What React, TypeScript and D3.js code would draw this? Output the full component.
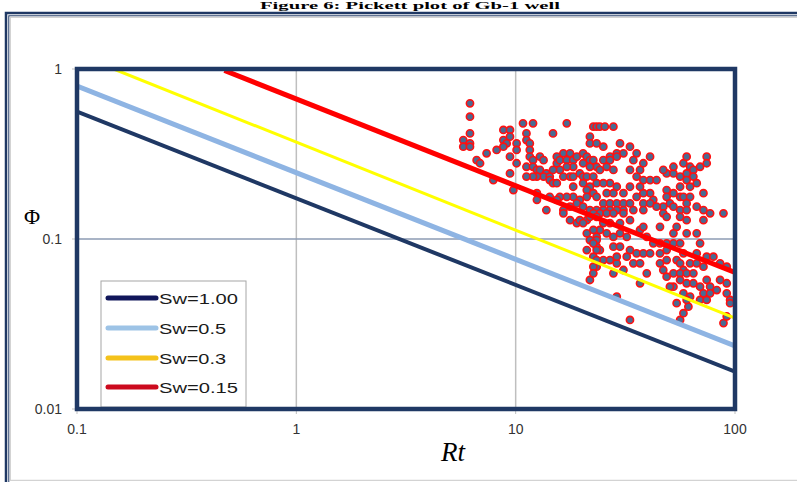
import React from "react";
import * as d3 from "d3";

// ---- data ----
const rtTicks = [0.1, 1, 10, 100];
const rtTickLabels = ["0.1", "1", "10", "100"];
const phiTicks = [0.01, 0.1, 1];
const phiTickLabels = ["0.01", "0.1", "1"];
const gridRt = [1, 10];
const gridPhi = [0.1];

const swLabels = ["Sw=1.00", "Sw=0.5", "Sw=0.3", "Sw=0.15"];
const swLineRt = [
  [0.1, 100],
  [0.1, 100],
  [0.147, 100],
  [0.47, 100],
];
const swLinePhi = [
  [0.561, 0.0166],
  [0.794, 0.0235],
  [1.0, 0.0343],
  [0.98, 0.0635],
];

const pointsRt = [
  6.19, 6.19, 6.19, 5.77, 6.19, 5.77, 6.19, 6.64, 6.88, 7.37, 7.91, 8.79, 9.42, 8.79, 9.42, 9.1, 8.79, 8.19, 9.42, 10.1,
  10.1, 10.8, 12.0, 11.2, 11.2, 11.6, 11.6, 11.6, 12.0, 12.9, 13.4, 11.2, 12.0, 12.5, 12.9, 13.8, 13.4, 12.5, 12.0, 11.2,
  10.1, 9.42, 9.76, 14.8, 17.1, 16.5, 17.7, 15.4, 15.4, 15.9, 17.1, 18.3, 19.0, 20.3, 21.1, 21.8, 20.3, 22.6, 23.4, 21.8,
  18.3, 17.1, 15.9, 14.8, 14.3, 14.3, 14.8, 15.4, 16.5, 17.7, 18.3, 19.6, 20.3, 21.1, 22.6, 23.4, 21.8, 20.3, 18.3, 21.1,
  22.6, 21.1, 19.6, 18.3, 17.1, 15.9, 15.4, 14.3, 12.5, 12.5, 13.8, 16.5, 17.7, 19.0, 20.3, 21.8, 23.4, 21.8, 21.8, 22.6,
  23.4, 23.4, 24.2, 25.5, 27.9, 25.1, 29.9, 33.2, 35.6, 28.9, 31.0, 26.9, 28.9, 25.1, 26.9, 34.4, 41.0, 38.2, 24.2, 26.0,
  27.9, 33.2, 36.9, 35.6, 38.2, 41.0, 43.9, 48.8, 47.1, 52.4, 52.4, 56.2, 58.2, 60.2, 62.4, 64.6, 69.3, 74.3, 74.3, 60.2,
  64.6, 60.2, 66.9, 62.4, 56.2, 52.4, 48.8, 48.8, 50.5, 56.2, 58.2, 62.4, 60.2, 66.9, 71.8, 52.4, 47.1, 42.4, 41.0, 38.2,
  36.9, 33.2, 31.0, 28.9, 26.9, 25.1, 23.4, 26.0, 27.9, 25.1, 26.9, 28.9, 31.0, 33.2, 35.6, 38.2, 41.0, 43.9, 38.2, 34.4,
  31.0, 28.9, 26.9, 25.1, 56.2, 60.2, 71.8, 24.2, 26.0, 27.9, 31.0, 33.2, 25.1, 26.9, 29.9, 24.2, 26.0, 27.9, 29.9, 32.1,
  36.9, 38.2, 45.5, 47.1, 48.8, 56.2, 60.2, 54.2, 52.4, 60.2, 66.9, 71.8, 77.0, 88.6, 69.3, 39.6, 42.4, 45.5, 48.8, 52.4,
  56.2, 23.4, 24.2, 27.9, 29.9, 33.2, 35.6, 38.2, 41.0, 45.5, 48.8, 58.2, 66.9, 25.1, 26.9, 28.9, 28.9, 32.1, 34.4, 23.4,
  27.9, 36.9, 39.6, 45.5, 48.8, 54.2, 56.2, 58.2, 62.4, 66.9, 71.8, 74.3, 79.7, 85.5, 91.7, 47.1, 48.8, 52.4, 56.2, 60.2,
  64.6, 56.2, 52.4, 60.2, 64.6, 69.3, 74.3, 85.5, 91.7, 77.0, 71.8, 77.0, 82.6, 91.7, 95.0, 95.0, 58.2, 62.4, 69.3, 74.3,
  54.2, 50.5, 36.9, 28.9, 33.2, 56.2, 58.2, 88.6, 91.7, 16.5, 17.7, 19.0, 19.6, 21.1, 21.8, 22.6, 23.4, 20.3, 21.1, 22.6,
  23.4, 23.4, 21.8, 22.6, 21.1, 23.4, 22.6, 23.4, 22.6, 21.8, 61.3, 60.2, 22.6, 31.0,
];
const pointsPhi = [
  0.628, 0.524, 0.418, 0.382, 0.365, 0.349, 0.349, 0.291, 0.279, 0.319, 0.222, 0.438, 0.438, 0.382, 0.4, 0.365, 0.349, 0.334, 0.305, 0.365,
  0.334, 0.479, 0.479, 0.418, 0.382, 0.365, 0.334, 0.305, 0.291, 0.305, 0.291, 0.266, 0.266, 0.255, 0.255, 0.243, 0.233, 0.233, 0.233, 0.233,
  0.279, 0.243, 0.194, 0.418, 0.479, 0.319, 0.319, 0.305, 0.279, 0.291, 0.291, 0.291, 0.305, 0.319, 0.305, 0.291, 0.279, 0.291, 0.266, 0.266,
  0.266, 0.266, 0.255, 0.255, 0.233, 0.222, 0.213, 0.213, 0.233, 0.233, 0.233, 0.243, 0.233, 0.233, 0.233, 0.213, 0.203, 0.213, 0.203, 0.194,
  0.186, 0.177, 0.17, 0.177, 0.177, 0.177, 0.17, 0.177, 0.186, 0.17, 0.148, 0.148, 0.155, 0.162, 0.155, 0.148, 0.148, 0.4, 0.365, 0.458,
  0.458, 0.365, 0.458, 0.458, 0.458, 0.349, 0.365, 0.349, 0.319, 0.319, 0.319, 0.305, 0.305, 0.291, 0.291, 0.291, 0.305, 0.279, 0.255, 0.266,
  0.255, 0.255, 0.255, 0.233, 0.222, 0.222, 0.222, 0.243, 0.255, 0.243, 0.266, 0.233, 0.279, 0.305, 0.266, 0.255, 0.266, 0.305, 0.279, 0.243,
  0.233, 0.222, 0.213, 0.203, 0.203, 0.186, 0.194, 0.177, 0.162, 0.177, 0.177, 0.177, 0.162, 0.155, 0.186, 0.155, 0.155, 0.17, 0.186, 0.186,
  0.203, 0.203, 0.186, 0.203, 0.213, 0.213, 0.177, 0.186, 0.186, 0.162, 0.162, 0.162, 0.162, 0.162, 0.177, 0.162, 0.162, 0.155, 0.148, 0.148,
  0.148, 0.148, 0.148, 0.148, 0.148, 0.148, 0.148, 0.1415, 0.1415, 0.1415, 0.1415, 0.129, 0.124, 0.124, 0.124, 0.113, 0.108, 0.103, 0.108, 0.103,
  0.113, 0.118, 0.118, 0.1415, 0.135, 0.135, 0.129, 0.118, 0.108, 0.108, 0.108, 0.129, 0.1415, 0.1415, 0.0943, 0.103, 0.0943, 0.0943, 0.0943, 0.0943,
  0.0943, 0.0901, 0.0861, 0.0901, 0.0901, 0.0861, 0.0823, 0.0823, 0.0823, 0.0823, 0.0861, 0.0823, 0.0823, 0.0752, 0.0752, 0.0719, 0.0787, 0.0787, 0.0719, 0.0687,
  0.0628, 0.0719, 0.0628, 0.0719, 0.0752, 0.0752, 0.0719, 0.0657, 0.0719, 0.0719, 0.0687, 0.0787, 0.0787, 0.0719, 0.0687, 0.0657, 0.06, 0.0628, 0.0628, 0.0628,
  0.0628, 0.0574, 0.0524, 0.0549, 0.0549, 0.0524, 0.0574, 0.0574, 0.0549, 0.0524, 0.0479, 0.0479, 0.0501, 0.0479, 0.0438, 0.0419, 0.0479, 0.0458, 0.0438, 0.0438,
  0.0419, 0.0524, 0.0549, 0.0458, 0.0334, 0.0334, 0.0366, 0.032, 0.035, 0.1415, 0.129, 0.124, 0.129, 0.129, 0.135, 0.1415, 0.135, 0.124, 0.108, 0.113,
  0.103, 0.0986, 0.0986, 0.0943, 0.0861, 0.0861, 0.0787, 0.0752, 0.0687, 0.0574, 0.04, 0.0438, 0.0628, 0.0657,
];

const titleText = "Figure 6: Pickett plot of Gb-1 well";
const xTitle = "Rt";
const yTitle = "\u03A6";

// ---- styles ----
const chartLineColors = ["#1F3864", "#8EB4E3", "#FFFF00", "#FF0000"];
const chartLineWidths = [4, 5, 3, 5];
const legendLineColors = ["#11165A", "#9DC3E6", "#F4C21B", "#CC0A1E"];
const legendTextLengths = [79, 67, 67, 79];

export default function App() {
  const x = d3.scaleLog().domain([0.1, 100]).range([77, 735]);
  const y = d3.scaleLog().domain([0.01, 1]).range([409, 69]);
  const [x0, x1] = x.range();
  const [yb, yt] = y.range();

  const line = d3
    .line<[number, number]>()
    .x((d) => x(d[0]))
    .y((d) => y(d[1]));

  const points = pointsRt.map((r, i) => [r, pointsPhi[i]] as [number, number]);

  const legendRowY = [298, 328, 358, 387];
  const font = "'Liberation Sans', Arial, sans-serif";

  return (
    <div style={{ position: "absolute", left: 0, top: 0 }}>
      <svg width={797} height={482} style={{ display: "block", background: "#fff" }}>
        <defs>
          <clipPath id="plotClip">
            <rect x={x0} y={yt} width={x1 - x0} height={yb - yt} />
          </clipPath>
        </defs>

        {/* title */}
        <text
          x={410}
          y={9}
          textAnchor="middle"
          fontFamily="'Liberation Serif', 'Times New Roman', serif"
          fontWeight="bold"
          fontSize={11}
          fill="#000"
          textLength={300}
          lengthAdjust="spacingAndGlyphs"
        >
          {titleText}
        </text>

        {/* outer double frame */}
        <rect x={6} y={13} width={820} height={490} fill="none" stroke="#1F3864" strokeWidth={2.5} />
        <rect x={8.8} y={15.8} width={820} height={490} fill="none" stroke="#1F3864" strokeWidth={1} />
        <rect x={10.3} y={17.3} width={820} height={463} fill="none" stroke="#C9C9C9" strokeWidth={1} />

        {/* gridlines */}
        {gridRt.map((g) => (
          <line key={"gx" + g} x1={x(g)} x2={x(g)} y1={yt} y2={yb} stroke="#BFBFBF" strokeWidth={1.5} />
        ))}
        {gridPhi.map((g) => (
          <line key={"gy" + g} x1={x0} x2={x1} y1={y(g)} y2={y(g)} stroke="#8C9BB3" strokeWidth={1.5} />
        ))}

        {/* tick marks */}
        {rtTicks.map((t) => (
          <line key={"tx" + t} x1={x(t)} x2={x(t)} y1={yb} y2={yb + 5} stroke="#BFBFBF" strokeWidth={1} />
        ))}
        {phiTicks.map((t) => (
          <line key={"ty" + t} x1={x0 - 5} x2={x0} y1={y(t)} y2={y(t)} stroke="#BFBFBF" strokeWidth={1} />
        ))}

        {/* scatter */}
        <g clipPath="url(#plotClip)">
          {points.map((p, i) => (
            <circle key={"p" + i} cx={x(p[0])} cy={y(p[1])} r={3.6} fill="#4B6A92" stroke="#FF1010" strokeWidth={1.6} />
          ))}
        </g>

        {/* Sw lines */}
        <g clipPath="url(#plotClip)">
          {swLabels.map((lab, i) => {
            const pts = swLineRt[i].map((r, j) => [r, swLinePhi[i][j]] as [number, number]);
            return (
              <path
                key={lab}
                d={line(pts) || ""}
                fill="none"
                stroke={chartLineColors[i]}
                strokeWidth={chartLineWidths[i]}
              />
            );
          })}
        </g>

        {/* legend */}
        <rect x={101} y={281} width={145} height={126} fill="#fff" stroke="#A6A6A6" strokeWidth={1} />
        {swLabels.map((lab, i) => (
          <g key={"lg" + lab}>
            <line
              x1={108}
              x2={156}
              y1={legendRowY[i]}
              y2={legendRowY[i]}
              stroke={legendLineColors[i]}
              strokeWidth={5}
              strokeLinecap="round"
            />
            <text
              x={159}
              y={legendRowY[i] + 6}
              fontFamily={font}
              fontSize={15}
              fill="#1a1a1a"
              textLength={legendTextLengths[i]}
              lengthAdjust="spacingAndGlyphs"
            >
              {lab}
            </text>
          </g>
        ))}

        {/* plot frame */}
        <rect x={x0} y={yt} width={x1 - x0} height={yb - yt} fill="none" stroke="#1F3864" strokeWidth={4.5} />

        {/* tick labels */}
        {rtTicks.map((t, i) => (
          <text key={"lx" + t} x={x(t)} y={yb + 25} textAnchor="middle" fontFamily={font} fontSize={14} fill="#333">
            {rtTickLabels[i]}
          </text>
        ))}
        {phiTicks.map((t, i) => (
          <text
            key={"ly" + t}
            x={x0 - 15}
            y={y(t) + 5}
            textAnchor="end"
            fontFamily={font}
            fontSize={14}
            fill="#333"
          >
            {phiTickLabels[i]}
          </text>
        ))}

        {/* axis titles */}
        <text
          x={453}
          y={461}
          textAnchor="middle"
          fontFamily="'Liberation Serif', 'Times New Roman', serif"
          fontStyle="italic"
          fontSize={27}
          fill="#000"
        >
          {xTitle}
        </text>
        <text
          x={32}
          y={224}
          textAnchor="middle"
          fontFamily="'Liberation Serif', 'Times New Roman', serif"
          fontSize={22}
          fill="#000"
        >
          {yTitle}
        </text>
      </svg>
    </div>
  );
}
